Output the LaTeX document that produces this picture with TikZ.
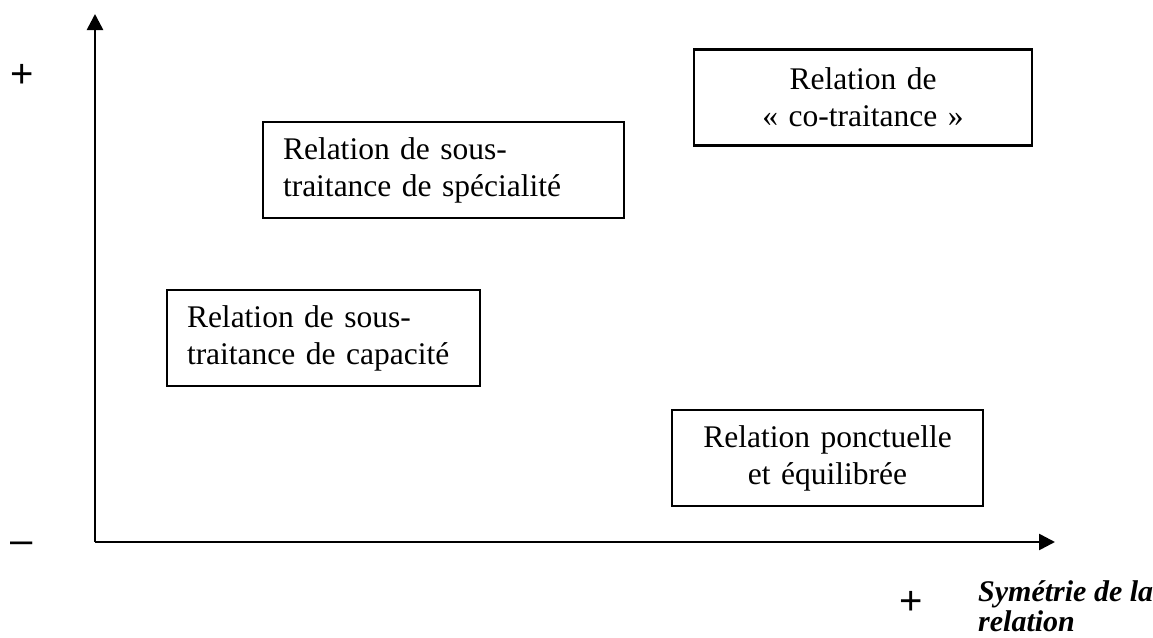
\documentclass[tikz,border=0pt]{standalone}
\usepackage{fontspec}
\setmainfont{Liberation Serif}
\newfontfamily\signfont{Liberation Sans}
\usepackage{tikz}
\usetikzlibrary{arrows.meta}
\tikzset{>={Triangle[length=16pt,width=16pt]}}
\tikzset{
  axis/.style={line width=2.6pt,->},
  relbox/.style={draw,line width=2.4pt,minimum height=96pt,inner xsep=20pt,inner ysep=0pt,
    font=\fontsize{31.5}{37}\selectfont},
  sign/.style={font=\signfont\fontsize{40}{44}\selectfont,inner sep=0pt}
}

\begin{document}
\begin{tikzpicture}[x=1pt,y=-1pt]
        \useasboundingbox (0,0) rectangle (1153,637);
        \coordinate (O) at (95,542);
        \coordinate (ytip) at (95,14);
        \coordinate (xtip) at (1055,542);
        \draw[axis] (O)--(ytip);
        \draw[axis] (O)--(xtip);
        \node[sign] (yplus) at (22,76) {+};
        \node[sign] (yminus) at (22,548) {\textendash};
        \node[sign] (xplus) at (911,603) {+};
        \node[font=\fontsize{30}{30}\selectfont\bfseries\itshape,align=left,anchor=north west,inner sep=0pt] (xlabel) at (978,580) {Symétrie de la\\relation};
        \node[relbox,minimum width=338pt,text width=298pt,align=center] (cotrait) at (863,97.5) {Relation de\\«~co-traitance~»};
        \node[relbox,minimum width=361pt,text width=321pt,align=left] (special) at (443.5,170) {Relation de sous-\\traitance de spécialité};
        \node[relbox,minimum width=313pt,text width=273pt,align=left] (capacite) at (323.5,338) {Relation de sous-\\traitance de capacité};
        \node[relbox,minimum width=311pt,text width=271pt,align=center] (ponct) at (827.5,458) {Relation ponctuelle\\et équilibrée};
        \end{tikzpicture}
\end{document}
